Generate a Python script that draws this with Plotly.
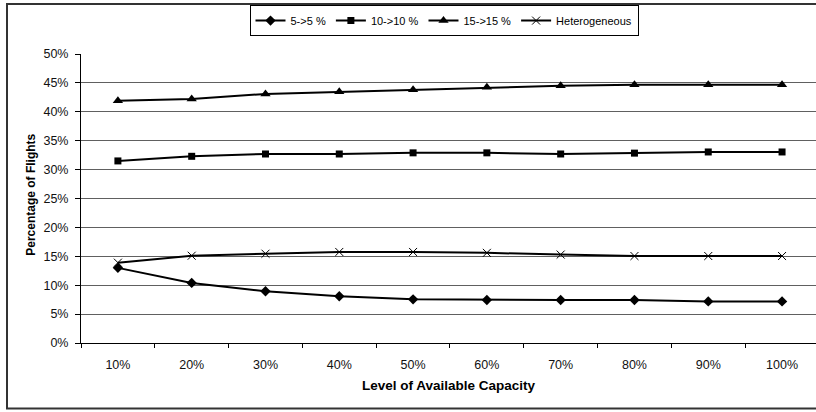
import plotly.graph_objects as go

categories = ["10%", "20%", "30%", "40%", "50%", "60%", "70%", "80%", "90%", "100%"]
s5 = [13.0, 10.4, 8.95, 8.1, 7.55, 7.45, 7.45, 7.45, 7.2, 7.2]
s10 = [31.5, 32.3, 32.7, 32.7, 32.9, 32.9, 32.7, 32.85, 33.05, 33.05]
s15 = [41.9, 42.2, 43.1, 43.45, 43.8, 44.25, 44.5, 44.7, 44.7, 44.7]
het = [13.9, 15.1, 15.45, 15.75, 15.75, 15.6, 15.3, 15.05, 15.05, 15.05]
y_ticks = list(range(0, 55, 5))
y_tick_text = [f"{v}%" for v in y_ticks]

W, H = 816, 412
L, R, T, B = 81, 0, 54, 68.5
pw = W - L - R
ph = H - T - B

FONT = "Liberation Sans, Arial, sans-serif"

series = [
    ("5->5 %", s5, dict(symbol="diamond", size=8, color="black")),
    ("10->10 %", s10, dict(symbol="square", size=7, color="black")),
    ("15->15 %", s15, dict(symbol="triangle-up", size=9, color="black")),
    ("Heterogeneous", het, dict(symbol="x-thin", size=8, color="black",
                                line=dict(color="black", width=1))),
]

fig = go.Figure()
for name, vals, mk in series:
    fig.add_trace(go.Scatter(
        x=categories, y=vals, name=name, mode="lines+markers",
        line=dict(color="black", width=2), marker=mk,
    ))

def px_to_paper_x(px):
    return (px - L) / pw

def px_to_paper_y(py):
    return (H - B - py) / ph

fig.update_layout(
    width=W, height=H,
    margin=dict(l=L, r=R, t=T, b=B),
    paper_bgcolor="white", plot_bgcolor="white",
    font=dict(family=FONT, size=12, color="#111"),
    showlegend=True,
    legend=dict(
        orientation="h", x=px_to_paper_x(444), xanchor="center",
        y=px_to_paper_y(5), yanchor="top",
        bordercolor="black", borderwidth=1, bgcolor="white",
        font=dict(family=FONT, size=11, color="black"),
        itemwidth=30, tracegroupgap=0,
    ),
    xaxis=dict(
        type="category", range=[-0.5, 9.46],
        showline=True, linecolor="black", linewidth=1,
        ticks="outside", ticklen=4, tickcolor="black", tickson="boundaries",
        showgrid=False, zeroline=False,
        tickfont=dict(family=FONT, size=12.5, color="#111"),
        ticklabelstandoff=10,
    ),
    yaxis=dict(
        range=[0, 50], tickvals=y_ticks, ticktext=y_tick_text,
        showline=True, linecolor="black", linewidth=1,
        ticks="outside", ticklen=5, tickcolor="black",
        showgrid=True, gridcolor="#606060", gridwidth=1, zeroline=False,
        tickfont=dict(family=FONT, size=12.5, color="#111"),
        ticklabelstandoff=4,
    ),
    annotations=[
        dict(text="<b>Percentage of Flights</b>", textangle=-90,
             xref="paper", yref="paper", x=px_to_paper_x(31), y=px_to_paper_y(195),
             xanchor="center", yanchor="middle", showarrow=False,
             font=dict(family=FONT, size=12, color="black")),
        dict(text="<b>Level of Available Capacity</b>",
             xref="paper", yref="paper", x=px_to_paper_x(449), y=px_to_paper_y(386),
             xanchor="center", yanchor="middle", showarrow=False,
             font=dict(family=FONT, size=13.5, color="black")),
    ],
    shapes=[
        dict(type="rect", xref="paper", yref="paper", layer="below",
             x0=px_to_paper_x(7), x1=px_to_paper_x(830),
             y0=px_to_paper_y(409), y1=px_to_paper_y(4),
             line=dict(color="#333", width=2), fillcolor="rgba(0,0,0,0)"),
    ],
)

fig.write_html("out.html")
